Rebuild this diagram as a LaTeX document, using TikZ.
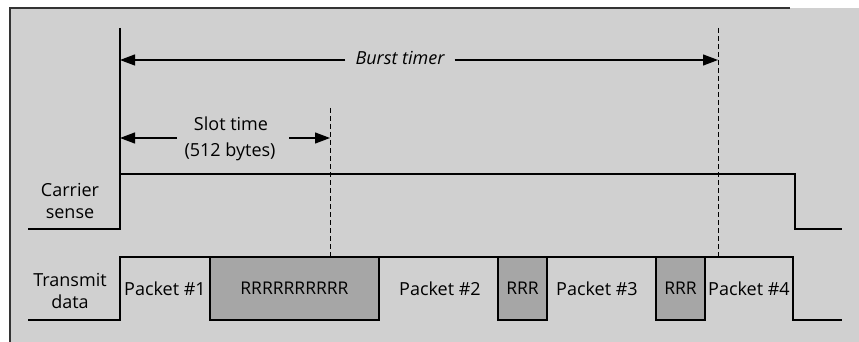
\documentclass[tikz,border=0pt]{standalone}
\usepackage{fontspec}
\setmainfont{Open Sans}
\usetikzlibrary{arrows.meta}
\definecolor{bgc}{HTML}{D0D0D0}
\definecolor{boxc}{HTML}{A6A6A6}
\begin{document}
\begin{tikzpicture}[x=1pt,y=-1pt,
  lbl/.style={font=\fontsize{18}{22}\selectfont, inner sep=0pt, align=center},
  sig/.style={line width=1.4pt, black},
  dimarrow/.style={line width=1.2pt, -{Triangle[length=15pt,width=11pt]}},
  guide/.style={line width=1pt, dash pattern=on 5pt off 3pt},
  rbox/.style={draw, line width=1.2pt, fill=boxc, minimum height=63pt, inner sep=0pt,
    font=\fontsize{17.5}{20}\selectfont}]
\useasboundingbox (0,0) rectangle (859,342);
\fill[white] (0,0) rectangle (859,342);
\fill[bgc] (10,8) rectangle (859,342);
\draw[line width=1.2pt, black!80] (10,342) -- (10,8) -- (790,8);

% signal levels
\draw[sig] (28,229) -- (120,229) -- (120,174) -- (795,174) -- (795,229) -- (842,229);
\draw[sig] (28,320) -- (120,320) -- (120,257) -- (793,257) -- (793,320) -- (842,320);

% grey retransmission boxes
\node[rbox, minimum width=169pt] (r1) at (294.5,288.5) {RRRRRRRRRR};
\node[rbox, minimum width=49pt] (r2) at (522.5,288.5) {RRR};
\node[rbox, minimum width=49pt] (r3) at (680.5,288.5) {RRR};

% reference lines
\coordinate (v0) at (120,28);
\coordinate (v1) at (120,174);
\draw[line width=1.2pt] (v0) -- (v1);
\coordinate (d1a) at (330,108);
\coordinate (d1b) at (330,257);
\draw[guide] (d1a) -- (d1b);
\coordinate (d2a) at (718,28);
\coordinate (d2b) at (718,257);
\draw[guide] (d2a) -- (d2b);

% burst timer
\node[lbl, font=\itshape\fontsize{18}{22}\selectfont, inner xsep=10pt] (bt) at (400,58) {Burst timer};
\coordinate (b0) at (120,60);
\coordinate (b1) at (718,60);
\draw[dimarrow] (bt.west |- b0) -- (b0);
\draw[dimarrow] (bt.east |- b1) -- (b1);

% slot time
\node[lbl] (st) at (231,124) {Slot time};
\node[lbl] (sb) at (230,152) {(512 bytes)};
\coordinate (s0) at (120,138);
\coordinate (s1) at (330,138);
\coordinate (sl) at (177,138);
\coordinate (sr) at (289,138);
\draw[dimarrow] (sl) -- (s0);
\draw[dimarrow] (sr) -- (s1);

% row labels
\node[lbl] (cs) at (70,201) {Carrier\\sense};
\node[lbl] (td) at (70,291) {Transmit\\data};

% packet labels
\node[lbl] (p1) at (165,289) {Packet \#1};
\node[lbl] (p2) at (440,289) {Packet \#2};
\node[lbl] (p3) at (597,289) {Packet \#3};
\node[lbl] (p4) at (749,289) {Packet \#4};
\end{tikzpicture}
\end{document}
